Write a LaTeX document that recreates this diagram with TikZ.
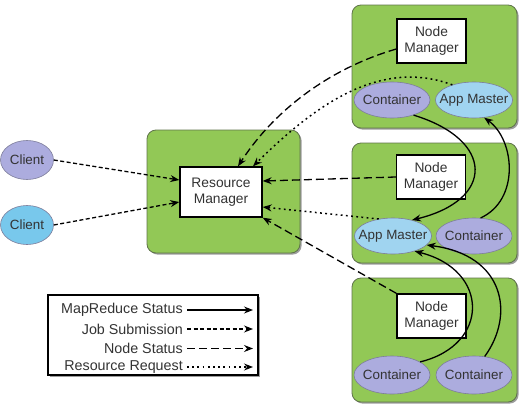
\documentclass[tikz,border=0pt]{standalone}
\usepackage{fontspec}
\setmainfont{Liberation Sans}
\usetikzlibrary{arrows.meta,shadows,shapes.geometric}

\definecolor{boxgreen}{RGB}{146,200,86}
\definecolor{greenedge}{RGB}{95,115,75}
\definecolor{lav}{RGB}{172,172,222}
\definecolor{amblue}{RGB}{160,212,240}
\definecolor{cblue}{RGB}{120,200,236}
\definecolor{elledge}{RGB}{125,125,155}

\begin{document}
\begin{tikzpicture}[x=1pt,y=-1pt,
  font=\fontsize{13.4}{14}\selectfont,
  host/.style={draw=greenedge, line width=0.8pt, fill=boxgreen, rounded corners=9pt,
    inner sep=0pt,
    drop shadow={shadow xshift=1.6pt,shadow yshift=-1.6pt,fill=black!70,opacity=.55}},
  mgr/.style={draw=black, line width=1.4pt, fill=white, align=center, inner sep=0pt,
    minimum width=69pt, minimum height=44pt, text=black!80,
    font=\fontsize{13.8}{15.5}\selectfont},
  ell/.style={ellipse, draw=elledge, line width=0.6pt, inner xsep=-7pt, inner ysep=2pt,
    minimum width=76pt, minimum height=36pt, text=black!80},
  contr/.style={ell, fill=lav},
  amast/.style={ell, fill=amblue},
  conn/.style={line width=1.3pt, -{Stealth[length=9pt,width=7pt,inset=3pt]}},
  mrs/.style={conn},
  jobsub/.style={conn, dash pattern=on 4pt off 2.5pt},
  nodest/.style={conn, dash pattern=on 8pt off 4pt},
  resreq/.style={conn, line width=1.5pt, dash pattern=on 1.8pt off 3.4pt},
  legtext/.style={anchor=east, inner sep=0pt, text=black!80, font=\fontsize{14.3}{15}\selectfont}
]
\useasboundingbox (0,0) rectangle (522,410);

% hosts
\node[host, minimum width=153pt, minimum height=123pt] (hrm) at (223.5,191.5) {};
\node[host, minimum width=165pt, minimum height=123pt] (h1) at (434.5,66.5) {};
\node[host, minimum width=165pt, minimum height=120pt] (h2) at (434.5,203) {};
\node[host, minimum width=165pt, minimum height=124pt] (h3) at (434.5,340) {};

% managers
\node[mgr, minimum width=82pt, minimum height=50pt] (rm) at (221,192) {Resource\\Manager};
\node[mgr] (nm1) at (431.5,41) {Node\\Manager};
\node[mgr] (nm2) at (431,177) {Node\\Manager};
\node[mgr] (nm3) at (431.5,316) {Node\\Manager};

% ellipses
\node[contr] (c1) at (392,100) {Container};
\node[amast] (am1) at (474,100) {App Master};
\node[amast] (am2) at (393,236) {App Master};
\node[contr] (c2) at (474,236) {Container};
\node[contr, minimum height=38pt] (c3) at (392,375) {Container};
\node[contr, minimum height=38pt] (c4) at (474,375) {Container};

% clients
\node[ell, fill=lav, minimum width=53pt, minimum height=39pt] (cl1) at (27,160) {Client};
\node[ell, fill=cblue, minimum width=53pt, minimum height=39pt] (cl2) at (27,225) {Client};

% job submission
\draw[jobsub] (cl1.east) -- ([yshift=12pt]rm.west);
\draw[jobsub] (cl2.east) -- ([yshift=-10pt]rm.west);

% node status
\draw[nodest] ([yshift=-8pt]nm1.west) .. controls (331,68) and (275,109) .. ([xshift=17pt]rm.north);
\draw[nodest] (nm2.west) -- ([yshift=11pt]rm.east);
\draw[nodest] (nm3.north west) -- (rm.south east);

% resource request
\draw[resreq] (am1.145) .. controls (380,58) and (315,105) .. ([xshift=32pt]rm.north);
\draw[resreq] (am2.130) -- ([yshift=-15pt]rm.east);

% mapreduce status
\draw[mrs] (c1.-35) .. controls (495,140) and (495,200) .. (am2.40);
\draw[mrs] (c2.70) .. controls (520,200) and (515,140) .. (am1.-60);
\draw[mrs] (c3.25) .. controls (490,345) and (490,270) .. (am2.-35);
\draw[mrs] (c4.60) .. controls (515,315) and (505,255) .. (am2.-15);

% legend
\node[draw=black, line width=1.2pt, fill=white, minimum width=210pt, minimum height=80pt,
  drop shadow={shadow xshift=1.6pt,shadow yshift=-1.6pt,fill=black!70,opacity=.55}] (leg) at (153,335) {};
\node[legtext] (t1) at (183,310) {MapReduce Status};
\node[legtext] (t2) at (183,329) {Job Submission};
\node[legtext] (t3) at (183,348.5) {Node Status};
\node[legtext] (t4) at (183,367) {Resource Request};
\coordinate (e1) at (253,310);
\coordinate (e2) at (253,329);
\coordinate (e3) at (253,348.5);
\coordinate (e4) at (253,367);
\draw[mrs, line width=1.1pt] ([xshift=4pt]t1.east) -- (e1);
\draw[jobsub, line width=1.1pt] ([xshift=4pt]t2.east) -- (e2);
\draw[nodest, line width=1.1pt] ([xshift=4pt]t3.east) -- (e3);
\draw[resreq, line width=1.2pt] ([xshift=4pt]t4.east) -- (e4);
\end{tikzpicture}
\end{document}
